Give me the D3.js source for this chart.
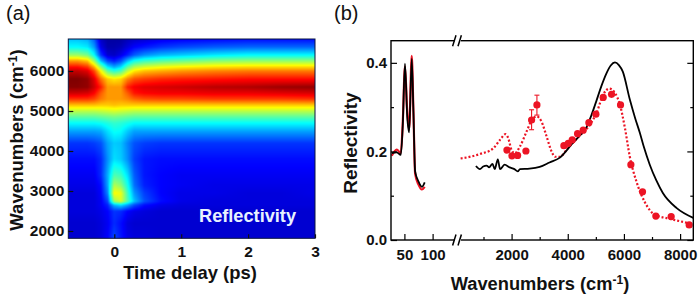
<!DOCTYPE html>
<html>
<head>
<meta charset="utf-8">
<script src="https://cdn.jsdelivr.net/npm/d3@7"></script>
<style>
  body { margin: 0; background: #fff; }
  text { font-family: "Liberation Sans", Arial, sans-serif; fill: #111; }
  .bold { font-weight: bold; }
</style>
</head>
<body>
<div class="chart"></div>
<script>
// panel (a), values are colour levels 0-1
var timeDelays = [-0.7, -0.55, -0.4, -0.3, -0.2, -0.1, 0, 0.1, 0.2, 0.3, 0.45, 0.7, 1, 1.5, 2, 2.5, 3];
var mapWavenumbers = [6800, 6600, 6400, 6250, 6100, 6000, 5800, 5600, 5450, 5300, 5150, 5000, 4850, 4700, 4500, 4200, 3800, 3400, 3150, 2950, 2750, 2650, 2500, 2200, 1825];
var mapLevels = [
  [.30, .30, .28, .20, .06, .03, .03, .03, .05, .06, .07, .09, .10, .11, .12, .12, .12],
  [.36, .36, .34, .26, .09, .04, .04, .05, .08, .11, .13, .16, .18, .20, .21, .21, .21],
  [.52, .52, .48, .36, .16, .07, .06, .09, .14, .20, .25, .29, .31, .34, .36, .36, .36],
  [.72, .72, .68, .52, .30, .18, .14, .19, .30, .38, .42, .45, .47, .50, .51, .51, .51],
  [.86, .86, .82, .70, .50, .34, .28, .33, .46, .54, .58, .61, .63, .65, .66, .66, .66],
  [.93, .93, .90, .80, .62, .46, .40, .44, .56, .64, .68, .70, .72, .74, .75, .75, .75],
  [1.0, 1.0, .98, .90, .76, .67, .64, .66, .74, .79, .81, .83, .84, .85, .86, .86, .86],
  [.99, .99, .98, .92, .84, .72, .72, .72, .84, .88, .90, .91, .92, .94, .95, .97, .98],
  [.92, .92, .91, .87, .78, .72, .72, .72, .78, .85, .87, .88, .88, .89, .89, .90, .91],
  [.82, .82, .82, .80, .75, .72, .72, .72, .74, .77, .79, .80, .80, .81, .81, .81, .82],
  [.68, .68, .68, .68, .67, .67, .68, .67, .67, .67, .67, .67, .67, .67, .67, .67, .67],
  [.55, .55, .55, .55, .56, .57, .58, .57, .56, .55, .55, .55, .55, .55, .55, .55, .55],
  [.45, .45, .45, .45, .46, .47, .48, .47, .46, .45, .45, .45, .45, .45, .45, .45, .45],
  [.36, .36, .36, .36, .37, .39, .41, .40, .38, .36, .36, .36, .36, .36, .36, .36, .36],
  [.27, .27, .27, .27, .28, .33, .37, .36, .31, .27, .27, .27, .27, .27, .27, .27, .27],
  [.16, .16, .16, .17, .19, .27, .31, .30, .24, .19, .17, .16, .16, .16, .16, .16, .16],
  [.12, .12, .12, .12, .15, .25, .33, .31, .25, .17, .13, .12, .12, .12, .12, .12, .12],
  [.10, .10, .10, .10, .15, .28, .44, .42, .33, .20, .13, .11, .10, .10, .10, .10, .10],
  [.09, .09, .09, .09, .12, .27, .54, .50, .38, .22, .14, .11, .10, .09, .09, .09, .09],
  [.08, .08, .08, .08, .11, .24, .62, .60, .42, .26, .17, .11, .09, .09, .08, .08, .09],
  [.08, .08, .08, .08, .10, .18, .52, .58, .44, .30, .19, .12, .09, .08, .08, .08, .08],
  [.08, .08, .08, .08, .10, .14, .28, .32, .26, .18, .12, .09, .08, .08, .08, .08, .08],
  [.08, .08, .08, .08, .09, .11, .16, .15, .11, .09, .08, .07, .07, .07, .07, .07, .07],
  [.07, .07, .07, .07, .08, .10, .15, .12, .08, .07, .07, .07, .07, .07, .07, .07, .07],
  [.07, .07, .07, .07, .08, .11, .18, .13, .09, .08, .08, .07, .07, .07, .07, .07, .07]
];
var timeTicks = [0, 1, 2, 3];
var mapWaveTicks = [2000, 3000, 4000, 5000, 6000];

// panel (b), far infrared part left of the axis break
var farWave = [27.5, 36.4, 43.6, 47, 51, 55, 58.4, 63, 66, 69, 75, 81, 86];
var farBlack = [.196, .198, .192, .256, .398, .279, .243, .409, .290, .155, .132, .120, .130];
var farRed = [.190, .204, .196, .262, .392, .290, .250, .416, .290, .150, .125, .114, .120];

// panel (b), right of the break
var blackWave = [730, 872, 990, 1110, 1200, 1320, 1400, 1510, 1590, 1750, 1930, 2100, 2220, 2300, 2640, 3000, 3350, 3720, 4180, 4400, 4680, 4850, 5035, 5200, 5390, 5530, 5680, 5820, 5960, 6210, 6400, 6566, 6700, 6920, 7150, 7386, 7880, 8470];
var blackRefl = [.167, .160, .166, .168, .164, .172, .160, .182, .160, .170, .164, .160, .155, .160, .161, .165, .175, .186, .219, .234, .256, .283, .317, .348, .378, .394, .401, .395, .380, .317, .275, .242, .212, .170, .135, .106, .072, .050];

var dottedWave = [185, 873, 1348, 1585, 1786, 1881, 2000, 2119, 2297, 2534, 2712, 2890, 3068, 3245, 3423, 3541, 3719, 4000, 4400, 4786, 5025, 5260, 5480, 5680, 5860, 6035, 6210, 6450, 6740, 7100, 7630, 8450];
var dottedRefl = [.184, .194, .207, .226, .239, .230, .203, .196, .211, .245, .270, .279, .267, .234, .200, .188, .188, .207, .234, .260, .287, .328, .342, .332, .305, .253, .188, .131, .086, .057, .048, .036];

var dotWave = [1834, 2012, 2214, 2510, 2712, 2902, 3862, 4017, 4159, 4349, 4550, 4752, 5001, 5262, 5559, 5879, 6247, 6662, 7136, 7682, 8323];
var dotRefl = [.203, .190, .191, .201, .271, .305, .213, .218, .226, .240, .248, .265, .284, .322, .329, .305, .170, .109, .054, .053, .034];

var errWave = [2712, 2902];
var errLow = [.249, .282];
var errHigh = [.294, .327];

var jetStops = [0, .11, .36, .62, .87, 1];
var jetColors = ['#000080', '#0000ff', '#00ffff', '#ffff00', '#ff0000', '#800000'];

var svgWidth = 700;
var svgHeight = 296;
var red = '#ec1424';

var svg = d3
  .select('.chart')
  .append('svg')
  .attr('width', svgWidth)
  .attr('height', svgHeight)
  .style('display', 'block');

// ---------- panel a ----------
var mapLeft = 68.3, mapRight = 315, mapTop = 39, mapBottom = 238.3;

var xTime = d3.scaleLinear().domain([0, 3]).range([114.3, 315]);
var yMap = d3.scaleLinear().domain([2000, 6000]).range([231, 71]);

var jet = d3.scaleLinear().domain(jetStops).range(jetColors);
var timeIndex = d3.scaleLinear().domain(timeDelays).range(d3.range(timeDelays.length)).clamp(true);
var waveIndex = d3.scaleLinear().domain(mapWavenumbers).range(d3.range(mapWavenumbers.length)).clamp(true);

function levelAt(t, w) {
  var fx = timeIndex(t), fy = waveIndex(w);
  var i = Math.min(Math.floor(fx), timeDelays.length - 2);
  var j = Math.min(Math.floor(fy), mapWavenumbers.length - 2);
  var a = fx - i, b = fy - j;
  return (mapLevels[j][i] * (1 - a) + mapLevels[j][i + 1] * a) * (1 - b) +
    (mapLevels[j + 1][i] * (1 - a) + mapLevels[j + 1][i + 1] * a) * b;
}

var mapW = Math.round(mapRight - mapLeft);
var mapH = Math.round(mapBottom - mapTop);
var canvas = document.createElement('canvas');
canvas.width = mapW;
canvas.height = mapH;
var ctx = canvas.getContext('2d');
for (var py = 0; py < mapH; py++) {
  for (var px = 0; px < mapW; px++) {
    ctx.fillStyle = jet(levelAt(xTime.invert(mapLeft + px + .5), yMap.invert(mapTop + py + .5)));
    ctx.fillRect(px, py, 1, 1);
  }
}

svg.append('image')
  .attr('x', mapLeft)
  .attr('y', mapTop)
  .attr('width', mapRight - mapLeft)
  .attr('height', mapBottom - mapTop)
  .attr('preserveAspectRatio', 'none')
  .attr('href', canvas.toDataURL());

svg.append('rect')
  .attr('x', mapLeft)
  .attr('y', mapTop)
  .attr('width', mapRight - mapLeft)
  .attr('height', mapBottom - mapTop)
  .attr('fill', 'none')
  .attr('stroke', '#0a1440')
  .attr('stroke-width', 1);

var mapAxisX = svg.append('g')
  .attr('class', 'bold')
  .attr('transform', 'translate(0,' + mapBottom + ')')
  .call(d3.axisBottom(xTime).tickValues(timeTicks).tickFormat(d3.format('d')).tickSize(-4).tickPadding(8));

var mapAxisY = svg.append('g')
  .attr('class', 'bold')
  .attr('transform', 'translate(' + mapLeft + ',0)')
  .call(d3.axisLeft(yMap).tickValues(mapWaveTicks).tickFormat(d3.format('d')).tickSize(-5).tickPadding(4));

[mapAxisX, mapAxisY].forEach(function(g) {
  g.select('.domain').remove();
  g.selectAll('line').attr('stroke', '#111').attr('stroke-width', 1.2);
  g.selectAll('text').style('font-size', '15.5px').style('font-family', '"Liberation Sans"').attr('fill', '#111');
});

svg.append('text')
  .attr('class', 'bold')
  .attr('x', 190)
  .attr('y', 279)
  .attr('text-anchor', 'middle')
  .style('font-size', '18.4px')
  .text('Time delay (ps)');

var mapYLabel = svg.append('text')
  .attr('class', 'bold')
  .attr('transform', 'translate(23,140) rotate(-90)')
  .attr('text-anchor', 'middle')
  .style('font-size', '18.6px');
mapYLabel.append('tspan').text('Wavenumbers (cm');
mapYLabel.append('tspan').attr('dy', -6).style('font-size', '12px').text('-1');
mapYLabel.append('tspan').attr('dy', 6).text(')');

svg.append('text')
  .attr('class', 'bold')
  .attr('x', 199)
  .attr('y', 222)
  .style('font-size', '18.2px')
  .style('fill', '#e8f2ff')
  .text('Reflectivity');

svg.append('text').attr('x', 6).attr('y', 20).style('font-size', '20px').text('(a)');
svg.append('text').attr('x', 334).attr('y', 20).style('font-size', '20px').text('(b)');

// ---------- panel b ----------
var plotLeft = 391, plotRight = 693.3, plotTop = 40.7, plotBottom = 240, breakX = 458;

var xFar = d3.scaleLinear().domain([26.25, 145]).range([plotLeft, breakX]);
var xNear = d3.scaleLinear().domain([92, 8470]).range([breakX, plotRight]);
var yRefl = d3.scaleLinear().domain([0, 0.45]).range([plotBottom, plotTop]);

function drawLine(xScale, waves, refl, color, width, dash) {
  var line = d3.line()
    .x(function(d) { return xScale(d); })
    .y(function(d, i) { return yRefl(refl[i]); })
    .curve(d3.curveMonotoneX);
  svg.append('path')
    .attr('d', line(waves))
    .attr('fill', 'none')
    .attr('stroke', color)
    .attr('stroke-width', width)
    .attr('stroke-dasharray', dash);
}

drawLine(xFar, farWave, farRed, red, 2.2, null);
drawLine(xFar, farWave, farBlack, '#000', 1.8, null);
drawLine(xNear, dottedWave, dottedRefl, red, 2.2, '2 2');
drawLine(xNear, blackWave, blackRefl, '#000', 1.8, null);

// error bars
var errors = svg.append('g').attr('stroke', red).attr('stroke-width', 1.1);
errWave.forEach(function(w, i) {
  var ex = xNear(w);
  errors.append('line').attr('x1', ex).attr('x2', ex).attr('y1', yRefl(errLow[i])).attr('y2', yRefl(errHigh[i]));
  errors.append('line').attr('x1', ex - 2.5).attr('x2', ex + 2.5).attr('y1', yRefl(errLow[i])).attr('y2', yRefl(errLow[i]));
  errors.append('line').attr('x1', ex - 2.5).attr('x2', ex + 2.5).attr('y1', yRefl(errHigh[i])).attr('y2', yRefl(errHigh[i]));
});

svg.append('g')
  .selectAll('circle')
  .data(dotWave)
  .enter()
  .append('circle')
  .attr('cx', function(d) { return xNear(d); })
  .attr('cy', function(d, i) { return yRefl(dotRefl[i]); })
  .attr('r', 3.6)
  .attr('fill', red);

// frame
svg.append('rect')
  .attr('x', plotLeft)
  .attr('y', plotTop)
  .attr('width', plotRight - plotLeft)
  .attr('height', plotBottom - plotTop)
  .attr('fill', 'none')
  .attr('stroke', '#000')
  .attr('stroke-width', 1.4);

function styleAxis(g, labelSize) {
  g.select('.domain').remove();
  g.selectAll('line').attr('stroke', '#000').attr('stroke-width', 1.2);
  g.selectAll('text').style('font-size', labelSize).style('font-family', '"Liberation Sans"').attr('fill', '#111');
}

var nearMajor = [2000, 4000, 6000, 8000];
var nearMinor = [1000, 3000, 5000, 7000];
var farMajor = [50, 100];
var reflMajor = [0, 0.2, 0.4];
var reflMinor = [0.1, 0.3];

function bottomAxis(scale, values, size, labels) {
  var g = svg.append('g')
    .attr('class', 'bold')
    .attr('transform', 'translate(0,' + plotBottom + ')')
    .call(d3.axisBottom(scale).tickValues(values).tickSize(-size).tickPadding(9)
      .tickFormat(labels ? d3.format('d') : ''));
  styleAxis(g, '15px');
}

bottomAxis(xFar, farMajor, 6, true);
bottomAxis(xNear, nearMajor, 6, true);
bottomAxis(xNear, nearMinor, 3, false);

styleAxis(svg.append('g').attr('class', 'bold')
  .attr('transform', 'translate(' + plotLeft + ',0)')
  .call(d3.axisLeft(yRefl).tickValues(reflMajor).tickFormat(d3.format('.1f')).tickSize(-6).tickPadding(4)), '15px');
styleAxis(svg.append('g')
  .attr('transform', 'translate(' + plotLeft + ',0)')
  .call(d3.axisLeft(yRefl).tickValues(reflMinor).tickFormat('').tickSize(-3)), '15px');
styleAxis(svg.append('g')
  .attr('transform', 'translate(' + plotRight + ',0)')
  .call(d3.axisRight(yRefl).tickValues(reflMajor).tickFormat('').tickSize(-6)), '15px');
styleAxis(svg.append('g')
  .attr('transform', 'translate(' + plotRight + ',0)')
  .call(d3.axisRight(yRefl).tickValues(reflMinor).tickFormat('').tickSize(-3)), '15px');

// axis break marks on top and bottom edge
[plotTop, plotBottom].forEach(function(edge) {
  svg.append('rect')
    .attr('x', breakX - 3)
    .attr('y', edge - 2)
    .attr('width', 6)
    .attr('height', 4)
    .attr('fill', '#fff');
  [-3.7, 1.7].forEach(function(off) {
    svg.append('line')
      .attr('x1', breakX + off - 1.7)
      .attr('x2', breakX + off + 1.7)
      .attr('y1', edge + 5.5)
      .attr('y2', edge - 5.5)
      .attr('stroke', '#000')
      .attr('stroke-width', 1.5);
  });
});

svg.append('text')
  .attr('class', 'bold')
  .attr('transform', 'translate(357,143) rotate(-90)')
  .attr('text-anchor', 'middle')
  .style('font-size', '19px')
  .text('Reflectivity');

var reflXLabel = svg.append('text')
  .attr('class', 'bold')
  .attr('x', 540)
  .attr('y', 290)
  .attr('text-anchor', 'middle')
  .style('font-size', '18.3px');
reflXLabel.append('tspan').text('Wavenumbers (cm');
reflXLabel.append('tspan').attr('dy', -6).style('font-size', '12px').text('-1');
reflXLabel.append('tspan').attr('dy', 6).text(')');
</script>
</body>
</html>
